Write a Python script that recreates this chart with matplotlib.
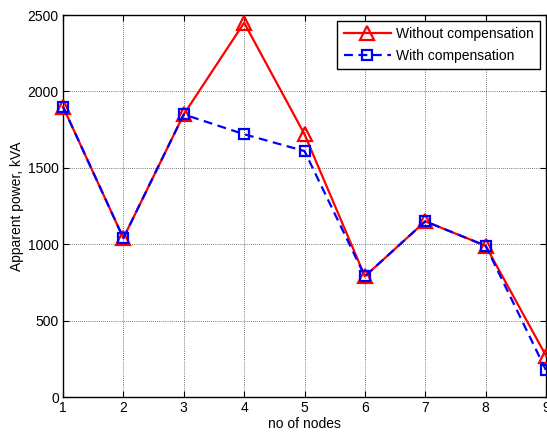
import matplotlib
matplotlib.use("Agg")
import matplotlib.pyplot as plt

nodes = [1, 2, 3, 4, 5, 6, 7, 8, 9]
without_comp = [1900, 1040, 1850, 2450, 1720, 790, 1150, 990, 270]
with_comp = [1900, 1040, 1850, 1720, 1610, 790, 1150, 990, 175]
y_ticks = [0, 500, 1000, 1500, 2000, 2500]

plt.rcParams['font.family'] = ['Liberation Sans', 'DejaVu Sans']

fig = plt.figure(figsize=(5.47, 4.4), dpi=100)
ax = fig.add_axes([0.1152, 0.0977, 0.883, 0.868])

ax.plot(nodes, without_comp, color='red', linestyle='-', linewidth=1.6,
        marker='^', markersize=10, markerfacecolor='none', markeredgewidth=1.6,
        label='Without compensation', clip_on=False, zorder=3)
ax.plot(nodes, with_comp, color='blue', linestyle=(0, (4, 2.5)), linewidth=1.6,
        marker='s', markersize=7.5, markerfacecolor='none', markeredgewidth=1.6,
        label='With compensation', clip_on=False, zorder=4)

ax.set_xlim(1, 9)
ax.set_ylim(0, 2500)
ax.set_xticks(nodes)
ax.set_yticks(y_ticks)
ax.tick_params(direction='in', labelsize=10, length=4, top=True, right=True, pad=3)
ax.grid(True, color='black', linestyle=(0, (1, 2)), linewidth=0.5)
for s in ax.spines.values():
    s.set_linewidth(1.0)

ax.set_xlabel('no of nodes', fontsize=10, labelpad=1)
ax.set_ylabel('Apparent power, kVA', fontsize=10, labelpad=3)

leg = ax.legend(loc='upper right', fontsize=10, fancybox=False, framealpha=1,
                edgecolor='black', borderaxespad=0.4, handlelength=3.4,
                handletextpad=0.4, borderpad=0.45, labelspacing=0.55)
leg.get_frame().set_linewidth(1.0)

fig.savefig('out.png', dpi=100)
